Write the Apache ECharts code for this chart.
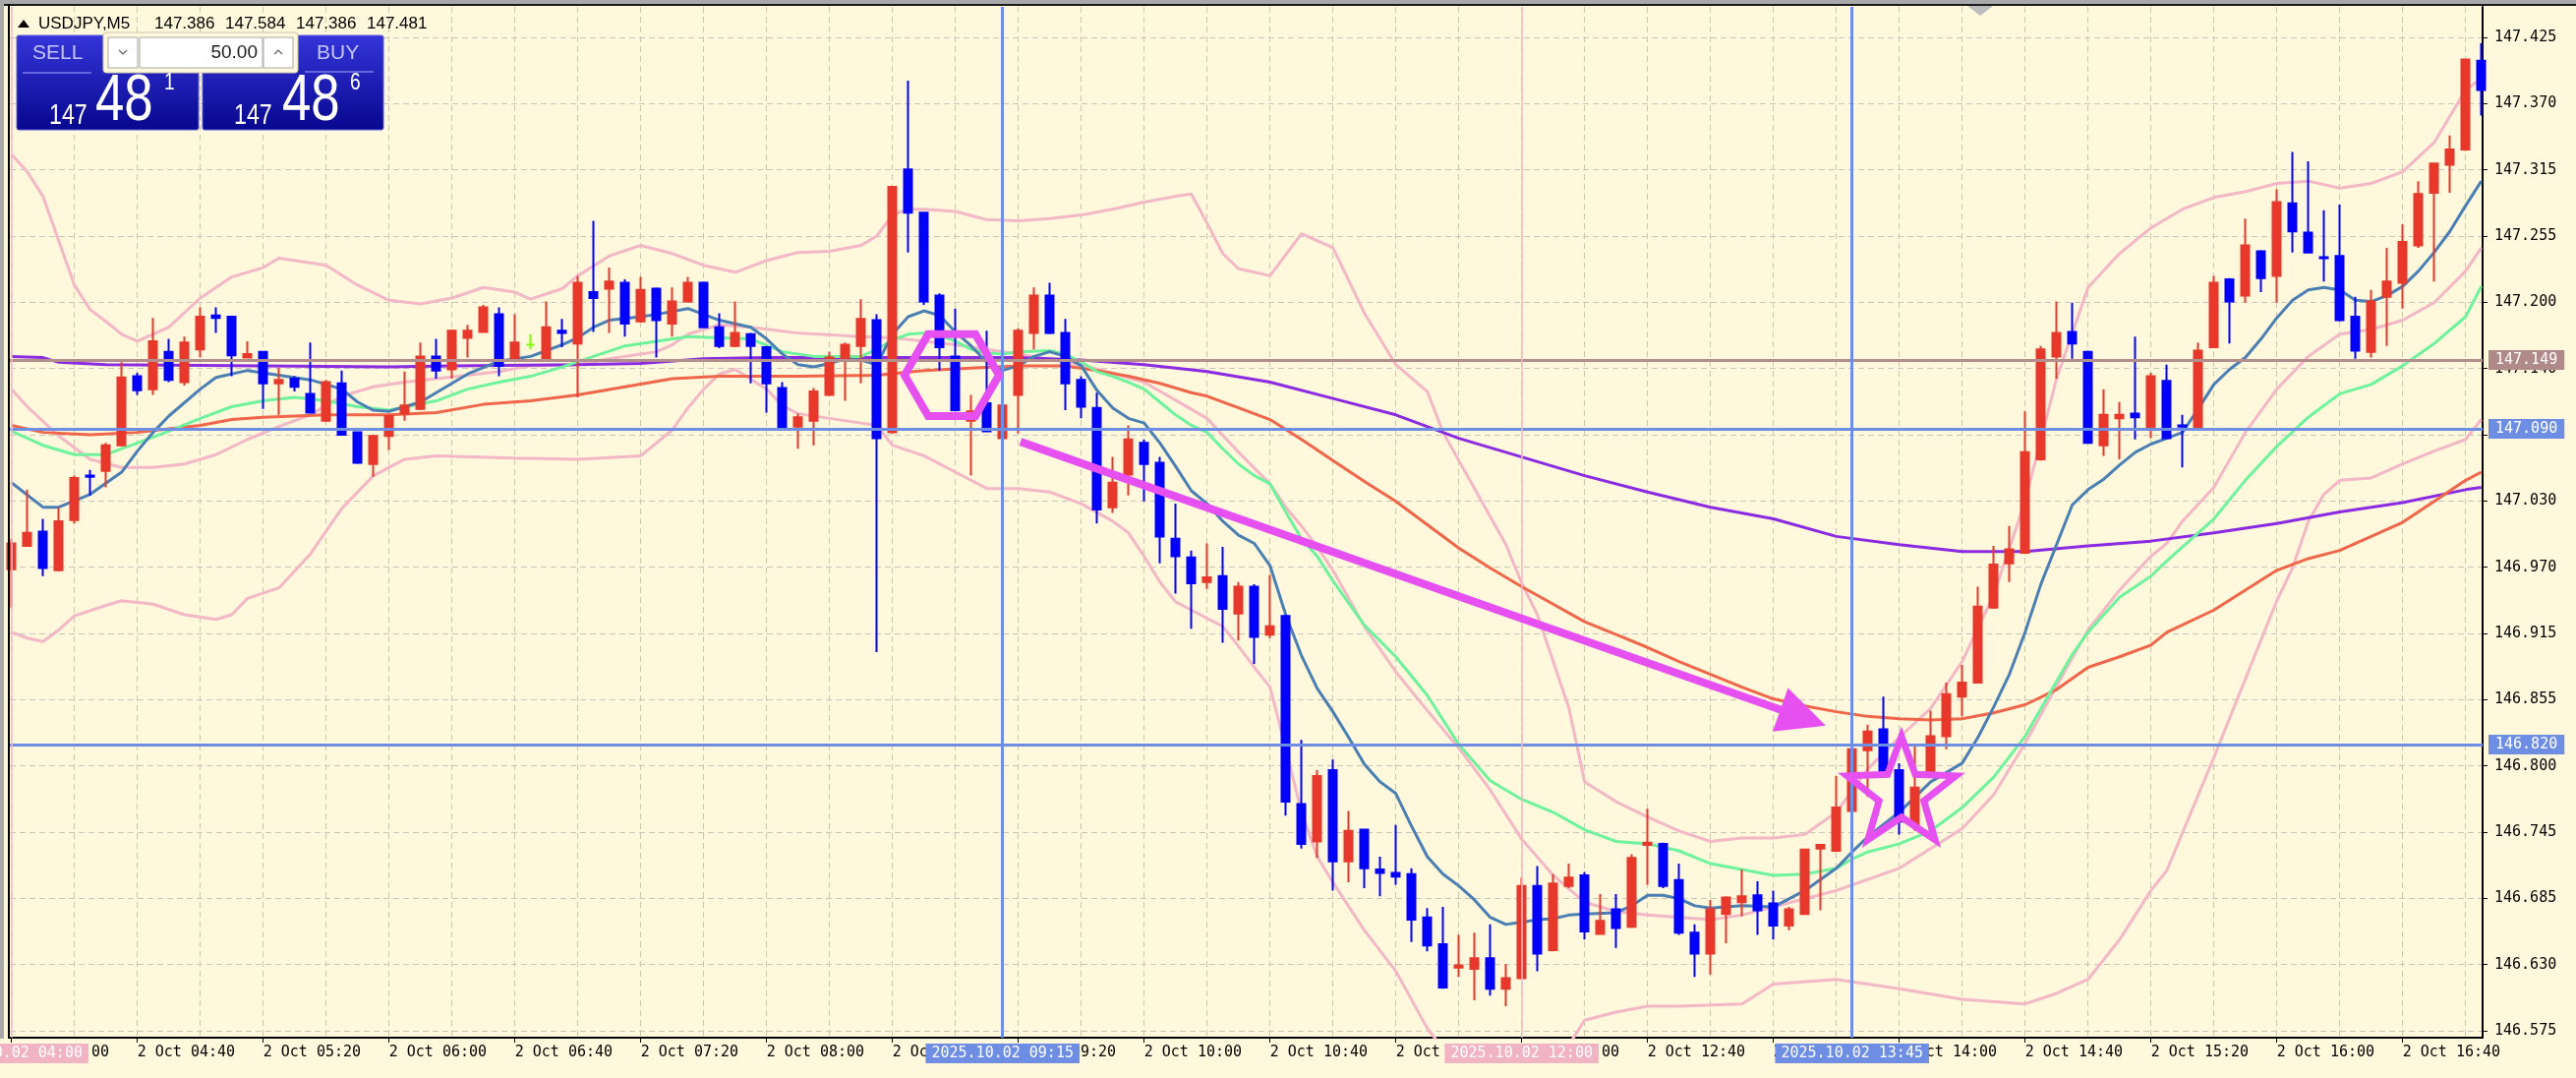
<!DOCTYPE html>
<html>
<head>
<meta charset="utf-8">
<title>USDJPY,M5</title>
<script src="https://cdn.jsdelivr.net/npm/echarts@6.0.0/dist/echarts.min.js"></script>
<style>
html,body{margin:0;padding:0;background:#fff8dc;overflow:hidden;}
#chart{width:2620px;height:1096px;}
</style>
</head>
<body>
<div id="chart"></div>
<script>
// ================= DATA =================
const sessionDate = '2 Oct';
const firstBarMinutes = 4 * 60;      // first bar 04:00
const barMinutes = 5;                 // M5

const opens = [
146.970,146.990,147.002,146.969,147.012,147.050,147.054,147.076,147.135,147.124,
147.156,147.130,147.158,147.187,147.186,147.151,147.156,147.129,147.133,147.120,
147.097,147.129,147.087,147.060,147.084,147.103,147.107,147.152,147.141,147.168,
147.173,147.188,147.150,147.162,147.150,147.174,147.163,147.207,147.210,147.215,
147.182,147.210,147.180,147.199,147.215,147.177,147.161,147.171,147.160,147.125,
147.092,147.097,147.119,147.150,147.161,147.183,147.087,147.312,147.275,147.204,
147.152,147.097,147.112,147.082,147.119,147.172,147.204,147.172,147.132,147.108,
147.023,147.051,147.078,147.061,146.996,146.980,146.959,146.964,146.932,146.955,
146.914,146.930,146.769,146.737,146.798,146.720,146.747,146.713,146.710,146.709,
146.672,146.649,146.629,146.628,146.637,146.611,146.620,146.699,146.644,146.699,
146.708,146.658,146.679,146.664,146.734,146.735,146.704,146.659,146.641,146.675,
146.685,146.691,146.684,146.665,146.675,146.731,146.729,146.763,146.815,146.833,
146.798,146.750,146.795,146.827,146.861,146.873,146.937,146.975,146.984,147.064,
147.152,147.173,147.156,147.076,147.099,147.103,147.091,147.131,147.093,147.090,
147.160,147.218,147.204,147.242,147.221,147.283,147.258,147.237,147.238,147.186,
147.156,147.203,147.215,147.247,147.292,147.316,147.329,147.405];

const closes = [
146.992,147.001,146.971,147.011,147.048,147.049,147.076,147.134,147.123,147.165,
147.132,147.164,147.186,147.185,147.153,147.154,147.129,147.132,147.126,147.104,
147.130,147.085,147.061,147.084,147.101,147.110,147.152,147.140,147.174,147.174,
147.194,147.144,147.164,147.162,147.177,147.172,147.215,147.202,147.216,147.180,
147.209,147.183,147.199,147.215,147.177,147.161,147.172,147.161,147.129,147.090,
147.100,147.122,147.151,147.162,147.184,147.082,147.297,147.275,147.199,147.160,
147.106,147.105,147.088,147.110,147.174,147.204,147.172,147.129,147.109,147.021,
147.044,147.081,147.060,146.998,146.981,146.958,146.963,146.936,146.955,146.912,
146.921,146.771,146.735,146.793,146.720,146.746,146.714,146.710,146.707,146.670,
146.648,146.612,146.631,146.637,146.611,146.620,146.699,146.641,146.701,146.706,
146.660,146.669,146.663,146.723,146.736,146.699,146.659,146.641,146.679,146.689,
146.690,146.678,146.665,146.679,146.730,146.734,146.766,146.816,146.831,146.795,
146.754,146.783,146.827,146.863,146.873,146.938,146.974,146.987,147.070,147.158,
147.172,147.163,147.078,147.102,147.102,147.100,147.135,147.082,147.092,147.157,
147.215,147.199,147.247,147.219,147.284,147.259,147.241,147.236,147.183,147.157,
147.199,147.216,147.250,147.291,147.317,147.329,147.406,147.380];

const highs = [
146.996,147.038,147.013,147.023,147.050,147.055,147.078,147.147,147.138,147.185,
147.167,147.169,147.194,147.194,147.186,147.165,147.156,147.142,147.135,147.164,
147.132,147.140,147.088,147.085,147.102,147.139,147.164,147.167,147.175,147.179,
147.196,147.194,147.188,147.171,147.199,147.184,147.221,147.268,147.228,147.218,
147.220,147.211,147.211,147.220,147.216,147.189,147.199,147.172,147.161,147.130,
147.103,147.125,147.156,147.164,147.201,147.188,147.298,147.388,147.275,147.206,
147.193,147.119,147.174,147.124,147.176,147.211,147.215,147.184,147.135,147.121,
147.066,147.093,147.081,147.066,147.026,146.986,146.992,146.989,146.959,146.957,
146.965,146.931,146.824,146.798,146.807,146.763,146.748,146.724,146.751,146.714,
146.680,146.681,146.657,146.659,146.666,146.632,146.706,146.716,146.709,146.718,
146.711,146.692,146.692,146.726,146.765,146.736,146.718,146.666,146.687,146.690,
146.713,146.703,146.695,146.681,146.731,146.734,146.793,146.831,146.837,146.861,
146.804,146.820,146.849,146.873,146.888,146.955,146.990,147.007,147.105,147.161,
147.199,147.198,147.157,147.124,147.113,147.169,147.138,147.145,147.102,147.164,
147.221,147.219,147.270,147.243,147.295,147.327,147.319,147.277,147.282,147.203,
147.209,147.245,147.265,147.302,147.318,147.341,147.407,147.420];

const lows = [
146.937,146.989,146.964,146.968,147.009,147.033,147.040,147.075,147.119,147.119,
147.130,147.127,147.151,147.172,147.135,147.151,147.107,147.102,147.122,147.103,
147.096,147.085,147.060,147.049,147.072,147.097,147.106,147.133,147.133,147.151,
147.172,147.135,147.149,147.158,147.149,147.160,147.117,147.173,147.172,147.169,
147.181,147.151,147.169,147.198,147.176,147.159,147.160,147.129,147.104,147.089,
147.073,147.076,147.118,147.114,147.129,146.899,147.086,147.241,147.196,147.140,
147.105,147.050,147.087,147.072,147.086,147.158,147.171,147.106,147.099,147.009,
147.018,147.033,147.028,146.975,146.949,146.919,146.953,146.907,146.909,146.889,
146.911,146.759,146.731,146.723,146.695,146.702,146.697,146.690,146.700,146.651,
146.643,146.611,146.621,146.601,146.605,146.596,146.619,146.626,146.643,146.697,
146.653,146.657,146.646,146.663,146.700,146.697,146.657,146.621,146.623,146.650,
146.673,146.657,146.653,146.661,146.674,146.678,146.728,146.762,146.775,146.792,
146.743,146.746,146.792,146.816,146.844,146.872,146.936,146.959,146.983,147.063,
147.133,147.150,147.078,147.067,147.064,147.081,147.082,147.081,147.057,147.089,
147.159,147.163,147.198,147.207,147.198,147.241,147.240,147.216,147.182,147.150,
147.151,147.161,147.193,147.245,147.216,147.292,147.328,147.358];

// indicator lines: [bar index, price]
const maFast = [[0,147.044],[2,147.023],[3,147.023],[5,147.034],[7,147.053],[8,147.071],[9,147.087],[10,147.101],[12,147.124],[13,147.134],[15,147.140],[17,147.136],[19,147.132],[21,147.124],[22,147.113],[23,147.106],[24,147.105],[26,147.113],[27,147.121],[29,147.137],[31,147.148],[33,147.152],[35,147.162],[36,147.168],[37,147.177],[38,147.183],[40,147.186],[41,147.188],[43,147.193],[44,147.188],[45,147.183],[47,147.177],[48,147.167],[49,147.154],[50,147.145],[51,147.143],[52,147.146],[53,147.150],[54,147.149],[55,147.145],[56,147.171],[57,147.186],[58,147.191],[59,147.187],[60,147.173],[61,147.161],[62,147.147],[63,147.140],[64,147.144],[65,147.152],[66,147.156],[67,147.152],[68,147.144],[69,147.123],[70,147.108],[71,147.099],[72,147.095],[73,147.078],[74,147.058],[75,147.037],[76,147.026],[77,147.011],[78,146.999],[79,146.992],[80,146.973],[81,146.931],[82,146.896],[83,146.868],[84,146.848],[85,146.826],[86,146.803],[87,146.788],[88,146.778],[89,146.750],[90,146.724],[91,146.709],[92,146.699],[93,146.687],[94,146.672],[95,146.666],[96,146.668],[97,146.670],[98,146.671],[99,146.674],[100,146.675],[102,146.676],[103,146.682],[104,146.691],[105,146.691],[106,146.688],[107,146.682],[108,146.680],[110,146.682],[112,146.681],[114,146.695],[116,146.714],[117,146.728],[118,146.741],[120,146.762],[122,146.788],[124,146.804],[125,146.826],[126,146.852],[127,146.880],[128,146.916],[129,146.957],[130,146.991],[131,147.025],[132,147.038],[133,147.047],[134,147.059],[135,147.070],[136,147.077],[137,147.082],[138,147.087],[139,147.107],[140,147.128],[141,147.141],[142,147.151],[143,147.167],[144,147.185],[145,147.200],[146,147.209],[147,147.211],[148,147.209],[149,147.200],[150,147.199],[151,147.204],[152,147.212],[153,147.225],[154,147.241],[155,147.259],[156,147.281],[157,147.302]];

const maMid = [[0,147.088],[2,147.076],[4,147.068],[6,147.068],[8,147.078],[10,147.088],[12,147.099],[14,147.109],[16,147.114],[18,147.117],[20,147.114],[22,147.109],[24,147.106],[27,147.114],[29,147.124],[31,147.130],[33,147.135],[35,147.143],[37,147.152],[39,147.161],[41,147.165],[43,147.169],[45,147.168],[47,147.167],[49,147.156],[51,147.152],[54,147.152],[55,147.158],[56,147.166],[57,147.171],[58,147.172],[59,147.170],[60,147.165],[61,147.158],[62,147.155],[63,147.154],[64,147.156],[66,147.157],[67,147.154],[68,147.147],[69,147.139],[70,147.135],[71,147.130],[72,147.124],[73,147.113],[74,147.102],[75,147.093],[76,147.087],[77,147.073],[78,147.060],[79,147.050],[80,147.043],[81,147.019],[82,146.996],[83,146.981],[84,146.960],[86,146.922],[88,146.895],[90,146.862],[92,146.820],[94,146.789],[96,146.773],[98,146.762],[100,146.747],[102,146.737],[104,146.735],[106,146.729],[108,146.718],[110,146.713],[112,146.708],[114,146.709],[116,146.714],[117,146.722],[118,146.728],[120,146.735],[122,146.746],[124,146.766],[126,146.792],[128,146.827],[130,146.874],[131,146.897],[132,146.916],[134,146.946],[136,146.964],[137,146.977],[140,147.013],[142,147.046],[144,147.075],[146,147.100],[148,147.120],[150,147.128],[152,147.144],[154,147.163],[156,147.186],[157,147.212]];

const maSlow = [[0,147.093],[2,147.087],[5,147.085],[8,147.087],[10,147.090],[12,147.093],[14,147.098],[16,147.100],[20,147.102],[24,147.102],[27,147.104],[30,147.111],[33,147.114],[36,147.119],[39,147.126],[42,147.133],[45,147.135],[48,147.135],[50,147.135],[55,147.136],[58,147.140],[61,147.142],[64,147.144],[67,147.144],[69,147.140],[71,147.135],[73,147.129],[75,147.121],[76,147.118],[78,147.108],[80,147.098],[82,147.081],[84,147.063],[86,147.045],[88,147.028],[90,147.008],[92,146.988],[94,146.971],[96,146.955],[98,146.940],[100,146.925],[102,146.914],[104,146.903],[106,146.891],[108,146.880],[110,146.869],[112,146.859],[114,146.853],[116,146.848],[118,146.844],[120,146.842],[122,146.841],[124,146.842],[126,146.847],[128,146.854],[130,146.867],[132,146.886],[134,146.895],[136,146.905],[137,146.916],[140,146.935],[142,146.952],[144,146.969],[146,146.979],[148,146.986],[150,146.998],[152,147.010],[154,147.028],[156,147.046],[157,147.053]];

const maLong = [[0,147.152],[2,147.151],[3,147.147],[6,147.145],[24,147.143],[28,147.144],[36,147.145],[40,147.146],[44,147.150],[48,147.151],[64,147.151],[68,147.149],[72,147.145],[76,147.139],[80,147.130],[84,147.116],[88,147.102],[92,147.082],[96,147.066],[100,147.050],[104,147.036],[108,147.023],[112,147.013],[116,146.998],[120,146.991],[124,146.985],[128,146.985],[132,146.990],[136,146.994],[140,147.001],[144,147.009],[148,147.019],[152,147.027],[156,147.038],[157,147.040]];

const bandUpper = [[0,147.325],[1,147.310],[2,147.289],[3,147.251],[4,147.213],[5,147.192],[6,147.182],[7,147.171],[8,147.165],[10,147.177],[12,147.202],[14,147.220],[16,147.228],[17,147.236],[19,147.232],[20,147.230],[22,147.213],[24,147.200],[26,147.197],[28,147.202],[30,147.211],[32,147.207],[33,147.201],[35,147.210],[36,147.221],[38,147.238],[40,147.247],[42,147.240],[44,147.230],[46,147.224],[48,147.234],[50,147.241],[52,147.242],[54,147.247],[55,147.255],[56,147.273],[57,147.278],[58,147.278],[60,147.276],[62,147.269],[64,147.268],[66,147.270],[68,147.273],[70,147.278],[72,147.284],[74,147.289],[75,147.291],[76,147.266],[77,147.240],[78,147.227],[80,147.221],[82,147.257],[84,147.245],[86,147.189],[88,147.145],[90,147.122],[91,147.087],[93,147.039],[95,146.991],[96,146.958],[97,146.931],[98,146.891],[99,146.851],[100,146.788],[102,146.771],[104,146.758],[106,146.746],[108,146.737],[110,146.740],[112,146.740],[114,146.743],[116,146.762],[118,146.799],[120,146.826],[122,146.851],[124,146.891],[126,146.948],[128,147.028],[130,147.133],[132,147.211],[134,147.240],[136,147.262],[138,147.278],[140,147.288],[142,147.293],[144,147.300],[146,147.302],[148,147.296],[150,147.300],[152,147.310],[154,147.335],[156,147.380],[157,147.390]];

const bandMiddle = [[0,147.124],[1,147.109],[3,147.084],[5,147.064],[7,147.057],[9,147.057],[11,147.060],[13,147.068],[15,147.081],[17,147.092],[19,147.102],[21,147.118],[23,147.126],[25,147.130],[27,147.133],[29,147.136],[31,147.139],[33,147.144],[36,147.145],[38,147.150],[41,147.156],[42,147.162],[43,147.171],[45,147.179],[47,147.177],[50,147.172],[54,147.169],[56,147.168],[60,147.162],[64,147.154],[68,147.145],[72,147.130],[76,147.099],[78,147.070],[80,147.043],[81,147.023],[82,147.007],[83,146.989],[84,146.969],[86,146.921],[88,146.882],[90,146.849],[92,146.817],[94,146.781],[96,146.739],[98,146.708],[100,146.685],[102,146.677],[104,146.674],[108,146.670],[110,146.674],[112,146.681],[116,146.695],[120,146.714],[124,146.748],[126,146.777],[128,146.821],[130,146.870],[132,146.918],[134,146.952],[136,146.981],[137,146.992],[138,147.011],[140,147.040],[142,147.087],[144,147.124],[146,147.152],[148,147.171],[150,147.175],[152,147.183],[154,147.198],[156,147.225],[157,147.245]];

const bandLower = [[0,146.916],[1,146.911],[2,146.908],[3,146.918],[4,146.930],[6,146.939],[7,146.943],[9,146.940],[11,146.931],[13,146.927],[14,146.931],[15,146.945],[17,146.954],[19,146.983],[21,147.022],[23,147.050],[25,147.064],[27,147.067],[32,147.065],[36,147.064],[40,147.067],[42,147.089],[43,147.108],[44,147.124],[45,147.137],[46,147.141],[48,147.124],[49,147.110],[50,147.103],[52,147.099],[54,147.095],[55,147.093],[56,147.076],[58,147.067],[60,147.053],[62,147.039],[64,147.039],[66,147.036],[68,147.026],[70,147.011],[71,147.001],[72,146.981],[73,146.959],[74,146.942],[75,146.935],[77,146.921],[78,146.904],[79,146.886],[80,146.869],[81,146.817],[82,146.762],[83,146.724],[84,146.702],[86,146.661],[88,146.626],[90,146.577],[91,146.560],[92,146.548],[94,146.535],[96,146.531],[98,146.543],[99,146.563],[100,146.584],[102,146.591],[104,146.596],[106,146.596],[110,146.598],[112,146.615],[116,146.619],[120,146.611],[124,146.602],[128,146.598],[130,146.607],[132,146.619],[134,146.653],[136,146.695],[137,146.712],[140,146.809],[142,146.876],[144,146.943],[145,146.971],[146,147.011],[147,147.034],[148,147.046],[150,147.048],[152,147.060],[154,147.071],[156,147.081],[157,147.098]];

// price scale tick labels, bottom to top
const yTickLabels = ['146.575','146.630','146.685','146.745','146.800','146.855','146.915','146.970','147.030','147.085','147.140','147.200','147.255','147.315','147.370','147.425'];

// horizontal / vertical lines (objects on chart)
const hLineValues = [147.149, 147.090, 146.820];
const hLineLabels = ['147.149', '147.090', '146.820'];
const vLineBars = [0, 63, 96, 117];
const vLineLabels = ['2025.10.02 04:00', '2025.10.02 09:15', '2025.10.02 12:00', '2025.10.02 13:45'];

// drawings: [bar index, price]
const hexagonAt = [59.77, 147.136];
const arrowFrom = [64.14, 147.079];
const arrowTo = [115.33, 146.836];
const starAt = [120.14, 146.778];

// header & trade panel text
const symbolTitle = 'USDJPY,M5';
const headerOHLC = ['147.386', '147.584', '147.386', '147.481'];
const lotSize = '50.00';
const sellQuote = ['147', '48', '1'];
const buyQuote = ['147', '48', '6'];

// ================= STYLE / LAYOUT =================
const MONO = 'DejaVu Sans Mono';
const SANS = '"Liberation Sans", Arial, sans-serif';
const RED = '#e8372b', BLUE = '#0000ff', DOJI = '#7cfc00';
const MAG = '#e650f0';
const BAND = '#f3b7c6';
const GRID_LINE = '#c8c5bd';
const PLOT = {left: 10, right: 2525, top: 7, bottom: 1055};
const BAR0_X = 11.7, BAR_STEP = 16;
const TICK_Y = {top: 38, bottom: 1048};

const N = opens.length;
const barTimes = opens.map((_, i) => {
  const m = firstBarMinutes + i * barMinutes;
  return sessionDate + ' ' + String(Math.floor(m / 60)).padStart(2, '0') + ':' + String(m % 60).padStart(2, '0');
});
const candleData = opens.map((o, i) => {
  const v = [i, o, closes[i], lows[i], highs[i]];
  if (o === closes[i]) {
    return {value: v, itemStyle: {color: DOJI, color0: DOJI, borderColor: DOJI, borderColor0: DOJI, borderColorDoji: DOJI}};
  }
  return v;
});

const yLo = +yTickLabels[0], yHi = +yTickLabels[yTickLabels.length - 1];
const yStep = (yHi - yLo) / (yTickLabels.length - 1);
const pxPerPrice = (TICK_Y.bottom - TICK_Y.top) / (yHi - yLo);
const mainYMin = yLo - (PLOT.bottom - TICK_Y.bottom) / pxPerPrice;
const mainYMax = yHi + (TICK_Y.top - PLOT.top) / pxPerPrice;
const xMin = (PLOT.left - BAR0_X) / BAR_STEP;
const xMax = (PLOT.right - BAR0_X) / BAR_STEP;

function lineSeries(data, color, width, z) {
  return {type: 'line', xAxisIndex: 0, yAxisIndex: 0, data: data, showSymbol: false, symbol: 'none',
    lineStyle: {color: color, width: width}, z: z, silent: true, animation: false, clip: true};
}

const hStyles = [
  {color: '#b38e8c', width: 3, bg: '#b08a88'},
  {color: '#6d8ee2', width: 3, bg: '#6d8ee2'},
  {color: '#6d8ee2', width: 3, bg: '#6d8ee2'}
];
const vStyles = [
  {color: '#f2bccb', width: 1.5, bg: '#f0b4c4'},
  {color: '#6d8ee2', width: 3, bg: '#6d8ee2'},
  {color: '#f2bccb', width: 1.5, bg: '#f0b4c4'},
  {color: '#6d8ee2', width: 3, bg: '#6d8ee2'}
];
const markData = hLineValues.map((v, k) => ({
  yAxis: v,
  lineStyle: {color: hStyles[k].color, width: hStyles[k].width, type: 'solid'},
  label: {show: true, position: 'end', formatter: hLineLabels[k], distance: 6, color: '#ffffff',
    backgroundColor: hStyles[k].bg, padding: [3, 7, 2, 7], fontFamily: MONO, fontSize: 15}
})).concat(vLineBars.map((b, k) => ({
  xAxis: b,
  lineStyle: {color: vStyles[k].color, width: vStyles[k].width, type: 'solid'},
  label: {show: true, position: 'start', formatter: vLineLabels[k], distance: 6, color: '#ffffff',
    backgroundColor: vStyles[k].bg, padding: [3, 6, 2, 6], fontFamily: MONO, fontSize: 15}
})));

function renderDrawings(params, api) {
  const children = [];
  // hexagon
  const h = api.coord(hexagonAt), R = 48, s = 0.866 * R;
  children.push({type: 'polygon', shape: {points: [[h[0] - R, h[1]], [h[0] - R / 2, h[1] - s], [h[0] + R / 2, h[1] - s], [h[0] + R, h[1]], [h[0] + R / 2, h[1] + s], [h[0] - R / 2, h[1] + s]]},
    style: {fill: 'none', stroke: MAG, lineWidth: 8, lineJoin: 'miter'}});
  // arrow
  const a = api.coord(arrowFrom), t = api.coord(arrowTo);
  const dx = t[0] - a[0], dy = t[1] - a[1], L = Math.sqrt(dx * dx + dy * dy);
  const ux = dx / L, uy = dy / L, headL = 49, headW = 23.5;
  const bx = t[0] - ux * headL, by = t[1] - uy * headL;
  children.push({type: 'line', shape: {x1: a[0], y1: a[1], x2: bx + ux * 3, y2: by + uy * 3},
    style: {stroke: MAG, lineWidth: 8, lineCap: 'butt'}});
  children.push({type: 'polygon', shape: {points: [[t[0], t[1]], [bx - uy * headW, by + ux * headW], [bx + uy * headW, by - ux * headW]]},
    style: {fill: MAG}});
  // star
  const c = api.coord(starAt), RO = 58, RI = 24, pts = [];
  for (let k = 0; k < 10; k++) {
    const ang = -Math.PI / 2 + k * Math.PI / 5, r = k % 2 === 0 ? RO : RI;
    pts.push([c[0] + r * Math.cos(ang), c[1] + r * Math.sin(ang)]);
  }
  children.push({type: 'polygon', shape: {points: pts}, style: {fill: 'none', stroke: MAG, lineWidth: 7, lineJoin: 'miter'}});
  return {type: 'group', children: children};
}

const panelGrad = {type: 'linear', x: 0, y: 0, x2: 0, y2: 1,
  colorStops: [{offset: 0, color: '#3535da'}, {offset: 1, color: '#07078e'}]};

const headerX = [157, 229, 301, 373];
const graphics = [
  // window frame
  {type: 'rect', z: 100, silent: true, shape: {x: 0, y: 0, width: 2620, height: 4}, style: {fill: '#a9a9a9'}},
  {type: 'rect', z: 100, silent: true, shape: {x: 0, y: 0, width: 4, height: 1056}, style: {fill: '#a9a9a9'}},
  {type: 'rect', z: 100, silent: true, shape: {x: 4, y: 4, width: 2616, height: 2}, style: {fill: '#1a1a1a'}},
  {type: 'rect', z: 100, silent: true, shape: {x: 8, y: 4, width: 2, height: 1052}, style: {fill: '#000000'}},
  // chart-shift marker
  {type: 'polygon', z: 100, silent: true, shape: {points: [[2001, 6], [2027, 6], [2014, 16]]}, style: {fill: '#bdbdbd'}},
  // header
  {type: 'polygon', z: 100, silent: true, shape: {points: [[18, 28], [24, 20], [30, 28]]}, style: {fill: '#000'}},
  {type: 'text', z: 100, silent: true, x: 39, y: 24, style: {text: symbolTitle, font: '17px ' + SANS, fill: '#000', verticalAlign: 'middle'}}
].concat(headerOHLC.map((txt, k) => ({type: 'text', z: 100, silent: true, x: headerX[k], y: 24,
  style: {text: txt, font: '17px ' + SANS, fill: '#000', verticalAlign: 'middle'}}))).concat([
  // trade panel
  {type: 'rect', z: 101, silent: true, shape: {x: 17, y: 36, width: 185, height: 96, r: 2}, style: {fill: panelGrad, stroke: '#5c5cdc', lineWidth: 1}},
  {type: 'rect', z: 101, silent: true, shape: {x: 206, y: 36, width: 184, height: 96, r: 2}, style: {fill: panelGrad, stroke: '#5c5cdc', lineWidth: 1}},
  {type: 'rect', z: 102, silent: true, shape: {x: 105, y: 33, width: 198, height: 41, r: 3}, style: {fill: '#fff8dc', stroke: '#cfc6ae', lineWidth: 1}},
  {type: 'rect', z: 103, silent: true, shape: {x: 110, y: 38, width: 30, height: 31}, style: {fill: '#ffffff', stroke: '#a8a8a8', lineWidth: 1}},
  {type: 'polyline', z: 104, silent: true, shape: {points: [[121, 51], [125, 55], [129, 51]]}, style: {stroke: '#606060', lineWidth: 1.2, fill: null}},
  {type: 'rect', z: 103, silent: true, shape: {x: 142, y: 38, width: 125, height: 31}, style: {fill: '#ffffff', stroke: '#a8a8a8', lineWidth: 1}},
  {type: 'text', z: 104, silent: true, x: 262, y: 54, style: {text: lotSize, font: '19px ' + SANS, fill: '#1a1a1a', align: 'right', verticalAlign: 'middle'}},
  {type: 'rect', z: 103, silent: true, shape: {x: 268, y: 38, width: 30, height: 31}, style: {fill: '#ffffff', stroke: '#a8a8a8', lineWidth: 1}},
  {type: 'polyline', z: 104, silent: true, shape: {points: [[279, 55], [283, 51], [287, 55]]}, style: {stroke: '#606060', lineWidth: 1.2, fill: null}},
  {type: 'text', z: 104, silent: true, x: 33, y: 54, style: {text: 'SELL', font: '21px ' + SANS, fill: '#c4c4ff', verticalAlign: 'middle'}},
  {type: 'line', z: 104, silent: true, shape: {x1: 23, y1: 74, x2: 93, y2: 74}, style: {stroke: '#7c7ce8', lineWidth: 1.5}},
  {type: 'text', z: 104, silent: true, x: 322, y: 54, style: {text: 'BUY', font: '21px ' + SANS, fill: '#c4c4ff', verticalAlign: 'middle'}},
  {type: 'line', z: 104, silent: true, shape: {x1: 310, y1: 73, x2: 380, y2: 73}, style: {stroke: '#7c7ce8', lineWidth: 1.5}},
  {type: 'text', z: 104, silent: true, x: 50, y: 118, scaleX: 0.8, style: {text: sellQuote[0], font: '29px ' + SANS, fill: '#ffffff', verticalAlign: 'middle'}},
  {type: 'text', z: 104, silent: true, x: 97, y: 104, scaleX: 0.8, style: {text: sellQuote[1], font: '66px ' + SANS, fill: '#ffffff', verticalAlign: 'middle'}},
  {type: 'text', z: 104, silent: true, x: 167, y: 84, scaleX: 0.8, style: {text: sellQuote[2], font: '24px ' + SANS, fill: '#ffffff', verticalAlign: 'middle'}},
  {type: 'text', z: 104, silent: true, x: 238, y: 118, scaleX: 0.8, style: {text: buyQuote[0], font: '29px ' + SANS, fill: '#ffffff', verticalAlign: 'middle'}},
  {type: 'text', z: 104, silent: true, x: 287, y: 104, scaleX: 0.8, style: {text: buyQuote[1], font: '66px ' + SANS, fill: '#ffffff', verticalAlign: 'middle'}},
  {type: 'text', z: 104, silent: true, x: 356, y: 84, scaleX: 0.8, style: {text: buyQuote[2], font: '24px ' + SANS, fill: '#ffffff', verticalAlign: 'middle'}}
]);

const option = {
  animation: false,
  backgroundColor: '#fff8dc',
  textStyle: {fontFamily: MONO},
  grid: [
    {left: PLOT.left, top: PLOT.top, width: PLOT.right - PLOT.left, height: PLOT.bottom - PLOT.top, containLabel: false, outerBoundsMode: 'none'},
    {left: BAR0_X, top: PLOT.top, width: BAR_STEP * (N - 1), height: PLOT.bottom - PLOT.top, containLabel: false, outerBoundsMode: 'none'},
    {left: PLOT.left, top: TICK_Y.top, width: PLOT.right - PLOT.left, height: TICK_Y.bottom - TICK_Y.top, containLabel: false, outerBoundsMode: 'none'}
  ],
  xAxis: [
    {gridIndex: 0, type: 'value', min: xMin, max: xMax, axisLine: {show: true, onZero: false, lineStyle: {color: '#000', width: 2}},
      axisTick: {show: false}, axisLabel: {show: false}, splitLine: {show: false}},
    {gridIndex: 1, type: 'category', data: barTimes, boundaryGap: false, axisLine: {show: false, onZero: false},
      axisTick: {show: true, interval: (i) => i % 8 === 0, length: 5, lineStyle: {color: '#000', width: 1}},
      axisLabel: {show: true, interval: (i) => i % 8 === 0, align: 'left', margin: 8, fontFamily: MONO, fontSize: 15, color: '#000'},
      splitLine: {show: true, interval: (i) => i % 4 === 0, lineStyle: {color: GRID_LINE, width: 1, type: [6, 4]}}},
    {gridIndex: 2, type: 'value', show: false, min: 0, max: 1, splitLine: {show: false}}
  ],
  yAxis: [
    {gridIndex: 0, type: 'value', position: 'right', min: mainYMin, max: mainYMax, axisLine: {show: true, onZero: false, lineStyle: {color: '#000', width: 2}},
      axisTick: {show: false}, axisLabel: {show: false}, splitLine: {show: false}},
    {gridIndex: 1, type: 'value', show: false, min: 0, max: 1, splitLine: {show: false}},
    {gridIndex: 2, type: 'value', position: 'right', min: yLo, max: yHi, interval: yStep,
      axisLine: {show: false, onZero: false}, axisTick: {show: true, length: 5, lineStyle: {color: '#000', width: 1}},
      axisLabel: {show: true, margin: 12, fontFamily: MONO, fontSize: 15, color: '#000',
        formatter: (v) => yTickLabels[Math.round((v - yLo) / yStep)] || ''},
      splitLine: {show: true, lineStyle: {color: GRID_LINE, width: 1, type: [6, 4]}}}
  ],
  series: [
    {type: 'line', xAxisIndex: 0, yAxisIndex: 0, data: [], z: 1, silent: true,
      markLine: {silent: true, symbol: ['none', 'none'], animation: false, precision: 3, data: markData}},
    lineSeries(bandUpper, BAND, 3, 3),
    lineSeries(bandMiddle, BAND, 3, 3),
    lineSeries(bandLower, BAND, 3, 3),
    lineSeries(maLong, '#8a2be2', 3, 3),
    lineSeries(maSlow, '#f0664a', 3, 3),
    lineSeries(maMid, '#6ef29c', 3, 3),
    lineSeries(maFast, '#4a7fb3', 3, 3),
    {type: 'candlestick', xAxisIndex: 0, yAxisIndex: 0, data: candleData, encode: {x: 0, y: [1, 2, 3, 4]},
      barWidth: 8, z: 4, silent: true, clip: true,
      itemStyle: {color: RED, color0: BLUE, borderColor: RED, borderColor0: BLUE, borderColorDoji: DOJI, borderWidth: 2}},
    {type: 'custom', xAxisIndex: 0, yAxisIndex: 0, data: [[hexagonAt[0], hexagonAt[1]]], renderItem: renderDrawings, z: 6, silent: true}
  ],
  graphic: {elements: graphics}
};

const chart = echarts.init(document.getElementById('chart'), null, {renderer: 'canvas', width: 2620, height: 1096});
chart.setOption(option);
</script>
</body>
</html>
